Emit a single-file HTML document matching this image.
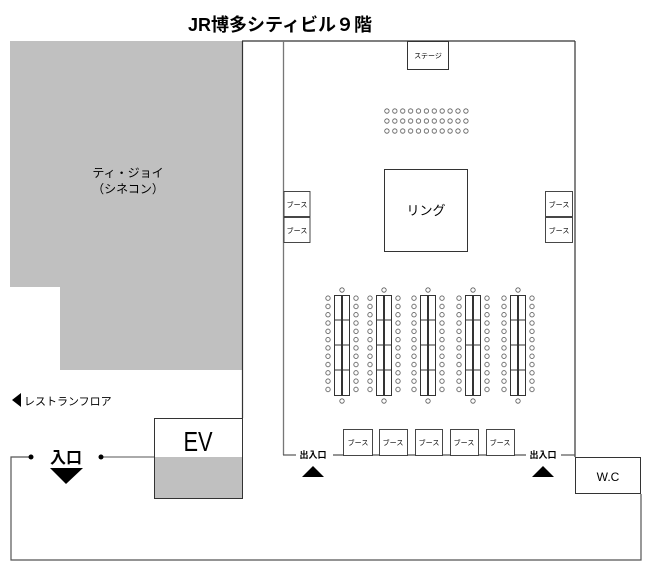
<!DOCTYPE html>
<html><head><meta charset="utf-8"><style>
html,body{margin:0;padding:0;background:#fff}
svg{display:block}
text{font-family:"Liberation Sans","Noto Sans CJK JP",sans-serif}
</style></head><body>
<svg width="650" height="569" viewBox="0 0 650 569" xmlns="http://www.w3.org/2000/svg">
<defs>
<pattern id="seat" patternUnits="userSpaceOnUse" x="383" y="106" width="7.9" height="10">
<circle cx="3.9" cy="5" r="2.2" fill="none" stroke="#555" stroke-width="0.8"/></pattern>
<pattern id="col" patternUnits="userSpaceOnUse" x="325" y="294" width="7" height="8.3">
<circle cx="3" cy="4.1" r="2.2" fill="none" stroke="#555" stroke-width="0.8"/></pattern>
</defs>
<text x="280" y="31" text-anchor="middle" font-size="18" font-weight="bold">JR博多シティビル９階</text>
<path d="M10 41 H242 V370 H60 V287 H10 Z" fill="#c0c0c0"/>
<line x1="242" y1="41" x2="575" y2="41" stroke="#333" stroke-width="1.3"/>
<line x1="242.5" y1="41" x2="242.5" y2="418" stroke="#333" stroke-width="1.2"/>
<line x1="283.5" y1="41" x2="283.5" y2="455" stroke="#777" stroke-width="1.3"/>
<line x1="575" y1="41" x2="575" y2="457" stroke="#333" stroke-width="1.2"/>
<text x="128" y="177" text-anchor="middle" font-size="12">ティ・ジョイ</text>
<text x="128" y="193" text-anchor="middle" font-size="12">（シネコン）</text>
<polygon points="12,400 21,393 21,407" fill="#000"/>
<text x="24" y="405" font-size="11">レストランフロア</text>
<rect x="154" y="457" width="89" height="42" fill="#c0c0c0"/>
<rect x="154.5" y="418.5" width="88" height="80" fill="none" stroke="#333" stroke-width="1"/>
<text x="0" y="451" text-anchor="middle" font-size="28" transform="translate(198,0) scale(0.78,1)">EV</text>
<polyline points="31,457 11,457 11,560 641,560 641,494" fill="none" stroke="#555" stroke-width="1.2"/>
<line x1="101" y1="457" x2="154" y2="457" stroke="#555" stroke-width="1"/>
<circle cx="31" cy="457" r="2.5" fill="#000"/>
<circle cx="101" cy="457" r="2.5" fill="#000"/>
<text x="66" y="463" text-anchor="middle" font-size="16" font-weight="bold">入口</text>
<polygon points="50,468 83,468 66,484" fill="#000"/>
<rect x="575.5" y="457.5" width="65" height="36" fill="#fff" stroke="#333" stroke-width="1"/>
<text x="608" y="481" text-anchor="middle" font-size="12" font-family="Liberation Mono">W.C</text>
<line x1="283" y1="455" x2="296" y2="455" stroke="#555" stroke-width="1.2"/>
<line x1="333" y1="455" x2="526" y2="455" stroke="#555" stroke-width="1.2"/>
<line x1="561" y1="455" x2="575" y2="455" stroke="#555" stroke-width="1.2"/>
<text x="313" y="458" text-anchor="middle" font-size="9" font-weight="bold">出入口</text>
<text x="543" y="458" text-anchor="middle" font-size="9" font-weight="bold">出入口</text>
<polygon points="302,477 324,477 313,466" fill="#000"/>
<polygon points="532,477 554,477 543,466" fill="#000"/>
<rect x="407.5" y="41.5" width="41" height="28" fill="#fff" stroke="#333"/>
<text x="428" y="58" text-anchor="middle" font-size="7">ステージ</text>
<rect x="383" y="106" width="87" height="30" fill="url(#seat)"/>
<rect x="384.5" y="169.5" width="83" height="82" fill="#fff" stroke="#333"/>
<text x="426" y="215" text-anchor="middle" font-size="13">リング</text>
<g fill="#fff" stroke="#333" stroke-width="0.9">
<rect x="284" y="191.5" width="26" height="25"/><rect x="284" y="217.5" width="26" height="25"/>
<rect x="545.5" y="191.5" width="27" height="25"/><rect x="545.5" y="217.5" width="27" height="25"/>
<rect x="343.5" y="429.5" width="29" height="26"/><rect x="379.5" y="429.5" width="28" height="26"/>
<rect x="415.5" y="429.5" width="27" height="26"/><rect x="450.5" y="429.5" width="28" height="26"/>
<rect x="486.5" y="429.5" width="28" height="26"/>
</g>
<g font-size="7" text-anchor="middle">
<text x="297" y="207">ブース</text><text x="297" y="233">ブース</text>
<text x="559" y="207">ブース</text><text x="559" y="233">ブース</text>
<text x="358" y="445">ブース</text><text x="393" y="445">ブース</text><text x="429" y="445">ブース</text><text x="464" y="445">ブース</text><text x="500" y="445">ブース</text>
</g>
<g id="t1">
<g stroke="#333" stroke-width="1" fill="#fff">
<rect x="334.5" y="295.5" width="7" height="100"/><rect x="342.5" y="295.5" width="7" height="100"/>
<line x1="334" y1="320" x2="350" y2="320"/><line x1="334" y1="345" x2="350" y2="345"/><line x1="334" y1="370" x2="350" y2="370"/>
</g>
<rect x="325" y="294" width="7" height="100" fill="url(#col)"/>
<rect x="353" y="294" width="7" height="100" fill="url(#col)"/>
<circle cx="342" cy="290" r="2.2" fill="none" stroke="#555" stroke-width="0.8"/>
<circle cx="342" cy="401" r="2.2" fill="none" stroke="#555" stroke-width="0.8"/>
</g>
<use href="#t1" x="42"/>
<use href="#t1" x="86"/>
<use href="#t1" x="131"/>
<use href="#t1" x="176"/>
</svg>
</body></html>
